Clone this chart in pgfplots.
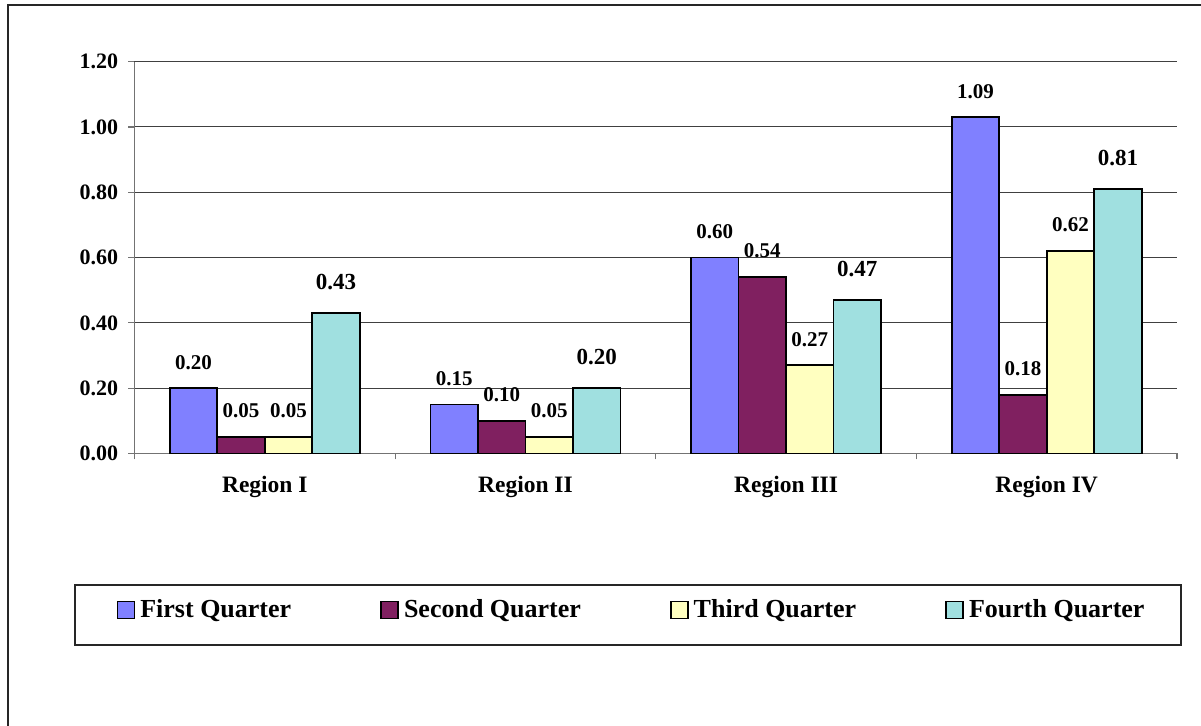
\documentclass[border=0pt]{standalone}
\usepackage{pgfplots}
\pgfplotsset{compat=1.18}
\usepackage{fontspec}
\setmainfont{Liberation Serif}
\definecolor{qa}{RGB}{128,128,255}
\definecolor{qb}{RGB}{128,32,96}
\definecolor{qc}{RGB}{255,255,192}
\definecolor{qd}{RGB}{160,224,224}
\pgfplotsset{sqlegend/.style={legend image code/.code={\draw[##1, line width=0.9pt] (0pt,-4.25pt) rectangle (8.5pt,4.25pt);}}}
\begin{document}
\begin{tikzpicture}
\path[use as bounding box] (0,0) rectangle (600.5pt,-363pt);
\draw[line width=0.8pt, black!85] (4pt,-363pt) -- (4pt,-2.5pt) -- (600.5pt,-2.5pt);
\draw[line width=0.8pt, black!85] (37.5pt,-292.5pt) rectangle (590.5pt,-322.5pt);
\begin{axis}[
  at={(67.25pt,-226.75pt)}, anchor=south west,
  scale only axis, width=521.25pt, height=195.9pt,
  xmin=0.5, xmax=4.5, ymin=0, ymax=1.2,
  ybar=0pt, bar width=23.75pt,
  ytick={0,0.2,0.4,0.6,0.8,1.0,1.2},
  ymajorgrids, grid style={black!75, line width=0.5pt},
  axis x line*=bottom, axis y line*=left,
  axis line style={black!55, line width=0.6pt, -},
  tick align=outside, major tick length=3pt,
  tick style={black!55, line width=0.6pt},
  xtick={0.5,1.5,2.5,3.5,4.5}, xticklabels={,,,,,},
  extra x ticks={1,2,3,4},
  extra x tick labels={Region I,Region II,Region III,Region IV},
  extra x tick style={major tick length=0pt},
  xticklabel style={font=\fontsize{11.75}{13}\selectfont\bfseries, inner sep=0pt, yshift=-11.25pt},
  yticklabel style={font=\fontsize{11}{12}\selectfont\bfseries, inner sep=0pt, xshift=-5pt},
  /pgf/number format/.cd, fixed, fixed zerofill, precision=2, assume math mode=true,
  /pgfplots/.cd,
  nodes near coords, point meta=explicit symbolic,
  every node near coord/.append style={font=\fontsize{10.5}{12}\selectfont\bfseries, inner sep=0pt, yshift=9pt, black},
  legend columns=4,
  legend style={at={(0.4758,-0.3994)}, anchor=center, draw=none, fill=none, inner sep=0pt,
    font=\fontsize{13}{15}\selectfont\bfseries,
    nodes={inner sep=0pt},
    /tikz/every odd column/.append style={column sep=2.5pt},
    /tikz/every even column/.append style={column sep=44.5pt}},
]
\addplot[fill=qa, draw=black, line width=0.9pt, sqlegend]
  table[x=x, y=y, meta=l, row sep=\\]{x y l\\ 1 0.20 0.20\\ 2 0.15 0.15\\ 3 0.60 0.60\\ 4 1.03 1.09\\};
\addplot[fill=qb, draw=black, line width=0.9pt, sqlegend]
  table[x=x, y=y, meta=l, row sep=\\]{x y l\\ 1 0.05 0.05\\ 2 0.10 0.10\\ 3 0.54 0.54\\ 4 0.18 0.18\\};
\addplot[fill=qc, draw=black, line width=0.9pt, sqlegend]
  table[x=x, y=y, meta=l, row sep=\\]{x y l\\ 1 0.05 0.05\\ 2 0.05 0.05\\ 3 0.27 0.27\\ 4 0.62 0.62\\};
\addplot[fill=qd, draw=black, line width=0.9pt, sqlegend,
  every node near coord/.append style={font=\fontsize{11.5}{13}\selectfont\bfseries, yshift=2pt}]
  table[x=x, y=y, meta=l, row sep=\\]{x y l\\ 1 0.43 0.43\\ 2 0.20 0.20\\ 3 0.47 0.47\\ 4 0.81 0.81\\};
\legend{First Quarter, Second Quarter, Third Quarter, Fourth Quarter}
\end{axis}
\end{tikzpicture}
\end{document}
